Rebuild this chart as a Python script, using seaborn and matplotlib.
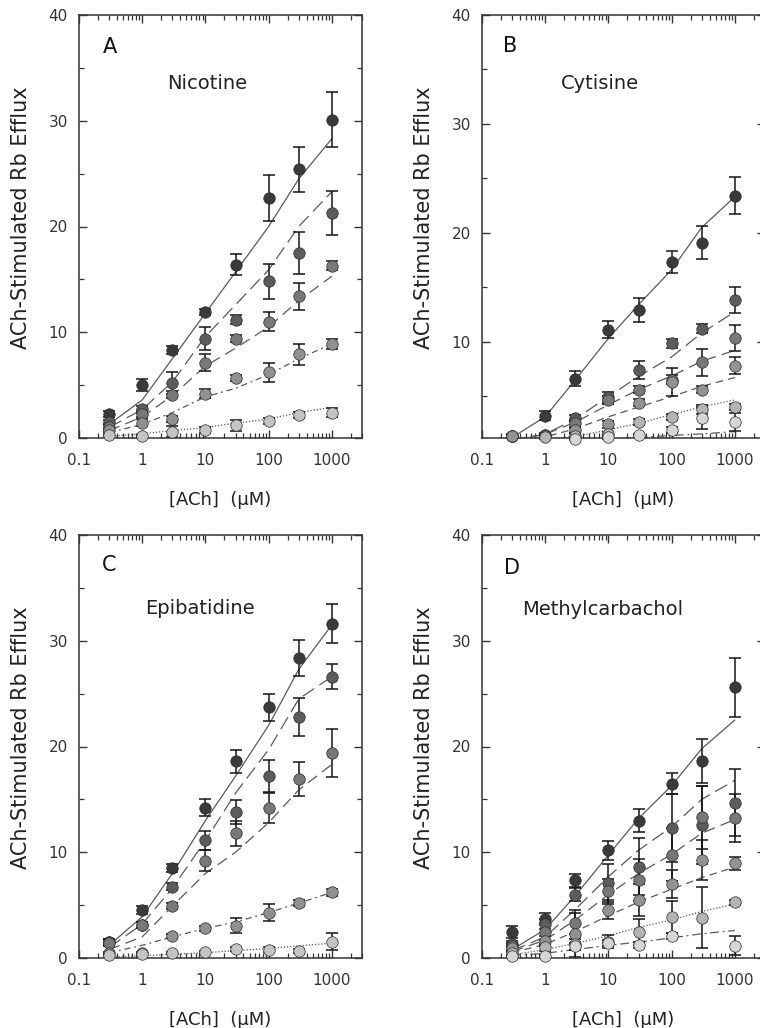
import numpy as np
import pandas as pd
import matplotlib
matplotlib.use("Agg")
import matplotlib.pyplot as plt
import seaborn as sns
from matplotlib.ticker import MultipleLocator, LogLocator, FuncFormatter, NullFormatter

nan = np.nan
# ---------------- data ----------------
ach = [0.3, 1, 3, 10, 30, 100, 300, 1000]          # [ACh] (uM)

# Panel A - Nicotine (5 pretreatment series)
nic_mean = [[2.3, 5.0, 8.3, 11.9, 16.4, 22.7, 25.4, 30.1],
            [1.5, 2.7, 5.2, 9.4, 11.2, 14.8, 17.5, 21.3],
            [1.0, 2.3, 4.1, 7.1, 9.4, 11.0, 13.4, 16.3],
            [0.75, 1.45, 1.8, 4.2, 5.7, 6.2, 7.9, 8.9],
            [0.3, 0.2, 0.6, 0.75, 1.2, 1.6, 2.2, 2.4]]
nic_err = [[0.3, 0.6, 0.4, 0.3, 1.0, 2.2, 2.1, 2.6],
           [0.2, 0.3, 1.0, 1.1, 0.4, 1.7, 2.0, 2.1],
           [0.2, 0.3, 0.3, 0.8, 0.3, 0.9, 1.3, 0.4],
           [0.2, 0.3, 0.3, 0.4, 0.3, 0.9, 1.0, 0.5],
           [0.1, 0.1, 0.5, 0.3, 0.5, 0.3, 0.3, 0.4]]
nic_fit = [[1.3, 3.6, 7.5, 11.8, 15.7, 20.0, 24.5, 28.3],
           [1.0, 2.7, 5.3, 9.6, 12.6, 15.9, 20.0, 23.3],
           [0.7, 2.0, 4.0, 6.8, 8.5, 10.5, 13.0, 15.3],
           [0.5, 1.3, 2.4, 3.9, 4.7, 6.0, 7.5, 8.9],
           [0.15, 0.4, 0.7, 1.0, 1.4, 1.8, 2.4, 2.9]]

# Panel B - Cytisine (6 series)
cyt_mean = [[1.35, 3.2, 6.6, 11.1, 12.9, 17.3, 19.1, 23.4],
            [1.35, 1.4, 3.0, 4.9, 7.4, 9.85, 11.2, 13.8],
            [1.35, 1.4, 2.5, 4.65, 5.6, 6.5, 8.1, 10.3],
            [1.35, 1.3, 1.85, 2.4, 4.4, 6.3, 5.6, 7.8],
            [nan, 1.2, 1.3, 1.5, 2.6, 3.1, 3.8, 4.0],
            [nan, nan, 1.1, 1.2, 1.4, 1.9, 3.0, 2.6]]
cyt_err = [[0.2, 0.4, 0.7, 0.8, 1.1, 1.0, 1.5, 1.7],
           [0.1, 0.2, 0.3, 0.5, 0.8, 0.4, 0.4, 1.2],
           [0.1, 0.1, 0.3, 0.4, 0.3, 0.4, 1.25, 1.2],
           [0.1, 0.1, 0.2, 0.3, 0.3, 1.25, 0.3, 0.8],
           [nan, 0.1, 0.2, 0.2, 0.3, 0.3, 0.4, 0.3],
           [nan, nan, 0.1, 0.1, 0.1, 0.3, 1.0, 0.85]]
cyt_fit = [[1.2, 3.1, 6.5, 10.3, 13.4, 16.6, 20.5, 23.3],
           [1.0, 1.5, 2.9, 4.95, 6.8, 8.6, 10.8, 12.75],
           [0.9, 1.5, 2.6, 4.2, 5.6, 6.85, 8.2, 9.2],
           [0.8, 1.25, 2.0, 3.1, 4.0, 4.95, 5.9, 6.7],
           [0.6, 1.0, 1.3, 1.9, 2.5, 3.3, 4.0, 4.65],
           [0.5, 0.7, 0.9, 1.05, 1.2, 1.38, 1.53, 1.74]]

# Panel C - Epibatidine (5 series)
epi_mean = [[1.5, 4.55, 8.5, 14.2, 18.6, 23.7, 28.4, 31.6],
            [1.5, 3.1, 6.75, 11.15, 13.8, 17.2, 22.8, 26.6],
            [1.4, 3.1, 4.9, 9.2, 11.8, 14.2, 16.9, 19.4],
            [0.5, 0.5, 2.1, 2.8, 3.05, 4.3, 5.2, 6.2],
            [0.3, 0.4, 0.45, 0.6, 0.85, 0.8, 0.65, 1.55]]
epi_err = [[0.3, 0.4, 0.4, 0.8, 1.1, 1.3, 1.7, 1.85],
           [0.3, 0.3, 0.3, 0.9, 1.1, 1.5, 1.8, 1.2],
           [0.3, 0.3, 0.3, 1.0, 1.2, 1.4, 1.6, 2.3],
           [0.1, 0.1, 0.2, 0.2, 0.7, 0.8, 0.3, 0.3],
           [0.1, 0.1, 0.1, 0.1, 0.2, 0.2, 0.2, 0.8]]
epi_fit = [[1.2, 3.9, 8.0, 13.0, 17.2, 22.0, 27.3, 31.5],
           [1.0, 3.2, 6.6, 11.1, 15.6, 19.7, 24.5, 26.6],
           [0.8, 2.0, 4.9, 8.0, 10.0, 12.8, 15.9, 18.3],
           [0.5, 1.2, 2.0, 2.8, 3.4, 4.3, 5.2, 6.2],
           [0.1, 0.2, 0.35, 0.5, 0.7, 0.9, 1.15, 1.4]]

# Panel D - Methylcarbachol (6 series)
mcc_mean = [[2.45, 3.7, 7.35, 10.2, 13.0, 16.5, 18.65, 25.6],
            [1.3, 3.2, 6.0, 7.1, 8.65, 12.3, 12.6, 14.7],
            [1.1, 2.5, 3.3, 6.3, 7.4, 9.75, 13.3, 13.25],
            [0.9, 1.6, 2.3, 4.55, 5.5, 7.0, 9.3, 8.95],
            [0.5, 1.0, 1.3, 1.55, 2.45, 3.85, 3.8, 5.25],
            [0.15, 0.15, 1.1, 1.4, 1.25, 2.1, nan, 1.15]]
mcc_err = [[0.55, 0.6, 0.6, 0.9, 1.1, 1.0, 2.1, 2.8],
           [0.3, 0.5, 0.6, 1.8, 2.7, 3.2, 3.7, 3.2],
           [0.3, 0.8, 1.0, 1.2, 2.0, 2.5, 3.0, 2.3],
           [0.3, 0.5, 2.2, 0.9, 1.5, 1.3, 1.9, 0.6],
           [0.2, 0.3, 0.5, 0.6, 1.2, 1.5, 2.9, 0.2],
           [0.1, 0.1, 0.3, 0.3, 0.3, 0.3, nan, 0.9]]
mcc_fit = [[0.8, 2.7, 5.9, 9.75, 13.2, 16.3, 19.8, 22.5],
           [0.7, 2.0, 4.6, 7.7, 10.2, 12.4, 15.0, 16.8],
           [0.6, 1.7, 3.6, 6.0, 8.0, 9.8, 11.8, 13.1],
           [0.5, 1.3, 2.5, 4.0, 5.3, 6.5, 7.6, 8.6],
           [0.3, 0.8, 1.4, 2.1, 2.9, 3.6, 4.4, 5.1],
           [0.2, 0.45, 0.8, 1.2, 1.5, 1.9, 2.3, 2.6]]

panel_letters = ["A", "B", "C", "D"]
panel_titles = ["Nicotine", "Cytisine", "Epibatidine", "Methylcarbachol"]
y_label = "ACh-Stimulated Rb Efflux"
x_label = "[ACh]  (\u03bcM)"

# ---------------- style ----------------
sns.set_style("ticks")
plt.rcParams["font.family"] = ["DejaVu Sans"]

colors5 = ["#3a3a3a", "#5c5c5c", "#787878", "#909090", "#c4c4c4"]
colors6 = ["#3a3a3a", "#5c5c5c", "#787878", "#929292", "#b4b4b4", "#d6d6d6"]
ls5 = ["-", (0, (11, 5)), (0, (9, 5)), (0, (5, 3, 1.5, 3)), (0, (1, 1.5))]
ls6 = ["-", (0, (11, 5)), (0, (9, 5)), (0, (6, 4)), (0, (1, 1.5)), (0, (7, 3, 1.5, 3))]

fig = plt.figure(figsize=(7.6, 10.28), dpi=100)
W, H = 760.0, 1028.0
aw, ah = 283 / W, 423 / H
positions = [(79 / W, 1 - 438 / H), (482 / W, 1 - 438 / H),
             (79 / W, 1 - 958 / H), (482 / W, 1 - 958 / H)]
ylims = [(0, 40), (1.15, 40), (0, 40), (0, 40)]
title_xy = [(0.452, 0.839), (0.417, 0.839), (0.428, 0.826), (0.428, 0.823)]
letter_xy = [(0.11, 0.924), (0.099, 0.927), (0.106, 0.93), (0.106, 0.922)]

panels = [(nic_mean, nic_err, nic_fit), (cyt_mean, cyt_err, cyt_fit),
          (epi_mean, epi_err, epi_fit), (mcc_mean, mcc_err, mcc_fit)]

for i, (means, errs, fits) in enumerate(panels):
    ax = fig.add_axes([positions[i][0], positions[i][1], aw, ah])
    n = len(means)
    cols = colors5 if n == 5 else colors6
    lss = ls5 if n == 5 else ls6
    for k in range(n):
        fit_df = pd.DataFrame({"x": ach, "y": fits[k]})
        sns.lineplot(data=fit_df, x="x", y="y", ax=ax, color="#5a5a5a",
                     linewidth=0.9, linestyle=lss[k], zorder=1, sort=False,
                     errorbar=None)
    for k in range(n):
        ax.errorbar(ach, means[k], yerr=errs[k], fmt="none", ecolor="#151515",
                    elinewidth=1.1, capsize=4.3, capthick=1.1, zorder=2,
                    clip_on=False)
    for k in range(n):
        pts = pd.DataFrame({"x": ach, "y": means[k]}).dropna()
        sns.scatterplot(data=pts, x="x", y="y", ax=ax, color=cols[k], s=68,
                        edgecolor="#2a2a2a", linewidth=0.5, zorder=3,
                        clip_on=False)
    ax.set_xscale("log")
    ax.set_xlim(0.1, 3000)
    ax.set_ylim(*ylims[i])
    ax.xaxis.set_major_locator(LogLocator(base=10, numticks=10))
    ax.xaxis.set_minor_locator(LogLocator(base=10, subs=np.arange(2, 10), numticks=20))
    ax.xaxis.set_major_formatter(FuncFormatter(lambda v, p: f"{v:g}" if 0.05 < v < 2000 else ""))
    ax.xaxis.set_minor_formatter(NullFormatter())
    ax.yaxis.set_major_locator(MultipleLocator(10))
    ax.yaxis.set_minor_locator(MultipleLocator(5))
    ax.yaxis.set_major_formatter(FuncFormatter(lambda v, p: f"{v:g}"))
    ax.tick_params(which="both", direction="in", top=True, right=True,
                   colors="#333333", labelcolor="#333333", labelsize=11)
    ax.tick_params(which="major", length=6, width=1.0)
    ax.tick_params(which="minor", length=3.5, width=0.9)
    ax.tick_params(axis="x", which="major", pad=11)
    ax.tick_params(axis="y", which="major", pad=8)
    for sp in ax.spines.values():
        sp.set_color("#333333")
        sp.set_linewidth(1.1)
    ax.set_xlabel(x_label, fontsize=13, color="#222222")
    ax.set_ylabel(y_label, fontsize=15, color="#222222")
    ax.xaxis.set_label_coords(0.5, -0.125)
    ax.yaxis.set_label_coords(-0.168, 0.52)
    ax.text(*letter_xy[i], panel_letters[i], transform=ax.transAxes, fontsize=15,
            ha="center", va="center", color="#111111")
    ax.text(*title_xy[i], panel_titles[i], transform=ax.transAxes, fontsize=14,
            ha="center", va="center", color="#222222")

fig.savefig("out.png", dpi=100)
